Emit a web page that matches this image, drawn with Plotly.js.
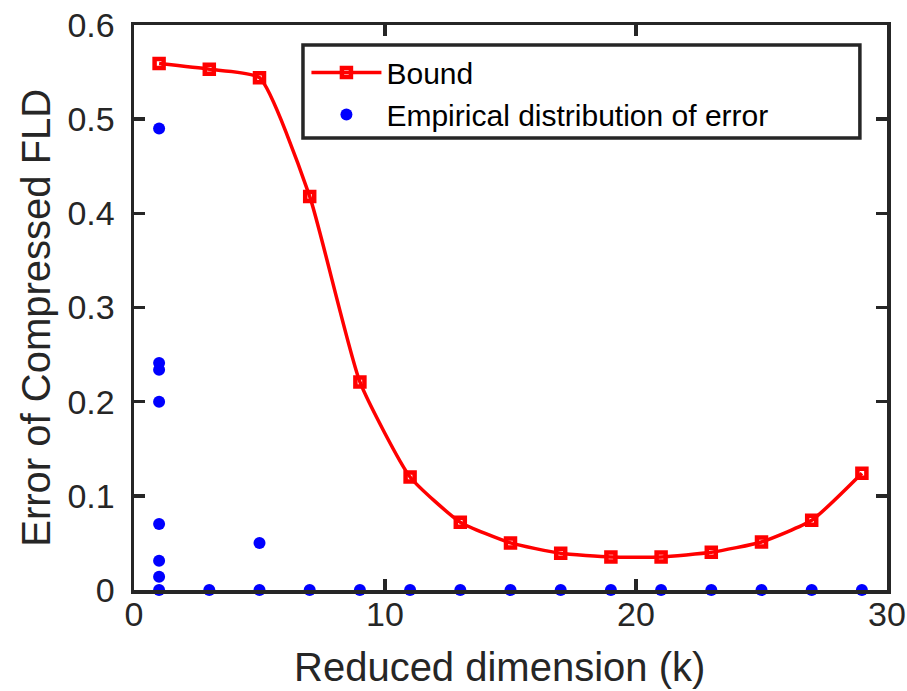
<!DOCTYPE html>
<html>
<head>
<meta charset="utf-8">
<script src="https://cdn.plot.ly/plotly-3.0.1.min.js"></script>
<style>
  html, body { margin: 0; padding: 0; background: #fff; }
  #chart { width: 907px; height: 691px; }
</style>
</head>
<body>
<div id="chart"></div>
<script>
// Reduced dimensions at which the bound is evaluated
const kValues = [1, 3, 5, 7, 9, 11, 13, 15, 17, 19, 21, 23, 25, 27, 29];
// Bound on the error of compressed FLD
const boundValues = [0.559, 0.553, 0.544, 0.418, 0.221, 0.120, 0.072, 0.050, 0.039, 0.035, 0.035, 0.040, 0.051, 0.074, 0.124];

// Empirical error samples (k, error)
const empK = [1, 1, 1, 1, 1, 1, 1, 1,
              3, 5, 5, 7, 9, 11, 13, 15, 17, 19, 21, 23, 25, 27, 29];
const empErr = [0.490, 0.241, 0.234, 0.200, 0.070, 0.031, 0.014, 0.0,
                0.0, 0.050, 0.0, 0.0, 0.0, 0.0, 0.0, 0.0, 0.0, 0.0, 0.0, 0.0, 0.0, 0.0, 0.0];

// Axis ticks
const xTicks = [0, 10, 20, 30];
const xTickText = ['0', '10', '20', '30'];
const yTicks = [0, 0.1, 0.2, 0.3, 0.4, 0.5, 0.6];
const yTickText = ['0', '0.1', '0.2', '0.3', '0.4', '0.5', '0.6'];

const axisColor = '#262626';
const fontFamily = '"Liberation Sans", Arial, Helvetica, sans-serif';

const traces = [
  {
    x: kValues, y: boundValues, name: 'Bound',
    type: 'scatter', mode: 'lines+markers',
    line: { color: '#ff0000', width: 3.5, shape: 'spline', smoothing: 0.5 },
    marker: { symbol: 'square-open', size: 9, color: '#ff0000', line: { width: 4.5, color: '#ff0000' } },
    cliponaxis: false
  },
  {
    x: empK, y: empErr, name: 'Empirical distribution of error',
    type: 'scatter', mode: 'markers',
    marker: { symbol: 'circle', size: 12, color: '#0000ff' },
    cliponaxis: false
  }
];

const axisCommon = {
  showline: true, linecolor: axisColor, linewidth: 3.5,
  mirror: 'ticks', ticks: 'inside', ticklen: 11, tickwidth: 3.5, tickcolor: axisColor,
  showgrid: false, zeroline: false,
  tickfont: { family: fontFamily, size: 34, color: axisColor }
};

const titleFont = { family: fontFamily, size: 40, color: axisColor };

const layout = {
  width: 907, height: 691,
  margin: { l: 134, r: 20, t: 25, b: 101 },
  paper_bgcolor: '#ffffff', plot_bgcolor: '#ffffff',
  showlegend: true,
  xaxis: Object.assign({}, axisCommon, {
    range: [0, 30], tickvals: xTicks, ticktext: xTickText,
    ticklabelstandoff: -8
  }),
  yaxis: Object.assign({}, axisCommon, {
    range: [0, 0.6], tickvals: yTicks, ticktext: yTickText,
    ticklabelstandoff: 9
  }),
  annotations: [
    { text: 'Reduced dimension (k)', xref: 'paper', yref: 'paper',
      x: 0.486, y: -0.0939, xanchor: 'center', yanchor: 'top',
      showarrow: false, font: titleFont },
    { text: 'Error of Compressed FLD', xref: 'paper', yref: 'paper',
      x: -0.1301, y: 0.482, xanchor: 'center', yanchor: 'middle',
      textangle: -90, showarrow: false, font: titleFont }
  ],
  // Legend frame
  shapes: [
    { type: 'rect', xref: 'paper', yref: 'paper', layer: 'above',
      x0: 0.2244, x1: 0.964, y0: 0.800, y1: 0.9646,
      line: { color: axisColor, width: 3.5 }, fillcolor: 'rgba(0,0,0,0)' }
  ],
  legend: {
    x: 0.229, y: 0.962, xanchor: 'left', yanchor: 'top',
    bgcolor: 'rgba(255,255,255,0)', borderwidth: 0,
    font: { family: fontFamily, size: 30, color: '#000000' },
    itemwidth: 70, tracegroupgap: 0
  }
};

Plotly.newPlot('chart', traces, layout, { displayModeBar: false, staticPlot: true });
</script>
</body>
</html>
